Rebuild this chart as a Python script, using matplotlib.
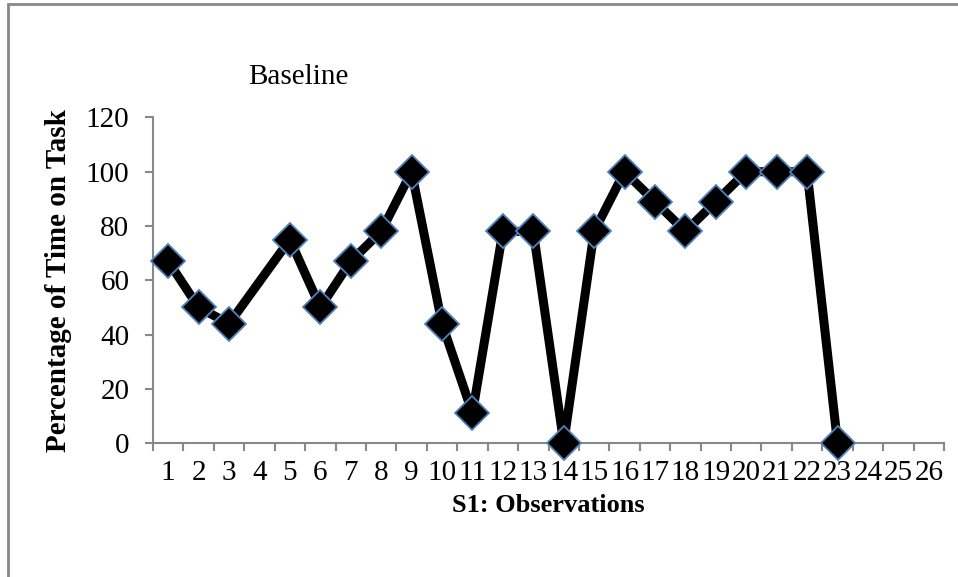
import numpy as np
import matplotlib.pyplot as plt
from matplotlib.patches import Rectangle

plt.rcParams['font.family'] = 'Liberation Serif'

# baseline data (observation 4 has no value)
obs = [1, 2, 3, 5, 6, 7, 8, 9, 10, 11, 12, 13, 14, 15, 16, 17, 18, 19, 20, 21, 22, 23]
pct = [67, 50, 44, 75, 50, 67, 78, 100, 44, 11, 78, 78, 0, 78, 100, 89, 78, 89, 100, 100, 100, 0]
cats = list(range(1, 27))
yticks = [0, 20, 40, 60, 80, 100, 120]

fig = plt.figure(figsize=(9.58, 5.77), dpi=100)
ax = fig.add_axes([0.1597, 0.2322, 0.8257, 0.5642])

# outer chart border (only top and left visible in the crop)
fig.patches.append(Rectangle((8/958, -0.1), 1.2, 1 - 4/577 + 0.1, transform=fig.transFigure,
                             fill=False, edgecolor='#888888', linewidth=2))

ax.plot(obs, pct, color='black', linewidth=6.5, marker='D', markersize=17,
        markerfacecolor='black', markeredgecolor='#4F81BD', markeredgewidth=1.3,
        clip_on=False, zorder=3)

ax.set_xlim(0.5, 26.5)
ax.set_ylim(0, 120)
ax.set_yticks(yticks)
ax.set_xticks(cats)
ax.set_xticks(np.arange(0.5, 27, 1), minor=True)
ax.tick_params(axis='x', which='major', length=0, pad=12, labelsize=21)
ax.tick_params(axis='x', which='minor', length=6, width=1.5, color='#888888', direction='out')
ax.tick_params(axis='y', length=6, width=1.5, color='#888888', direction='out', pad=11, labelsize=21)

for s in ['top', 'right']:
    ax.spines[s].set_visible(False)
for s in ['left', 'bottom']:
    ax.spines[s].set_color('#888888')
    ax.spines[s].set_linewidth(1.5)

ax.set_xlabel('S1: Observations', fontsize=19, fontweight='bold', labelpad=6)
ax.set_ylabel('Percentage of Time on Task', fontsize=21, fontweight='bold', labelpad=10)
fig.text(248/958, 1 - 77/577, 'Baseline', fontsize=21, ha='left', va='center')

fig.savefig('out.png', dpi=100)
